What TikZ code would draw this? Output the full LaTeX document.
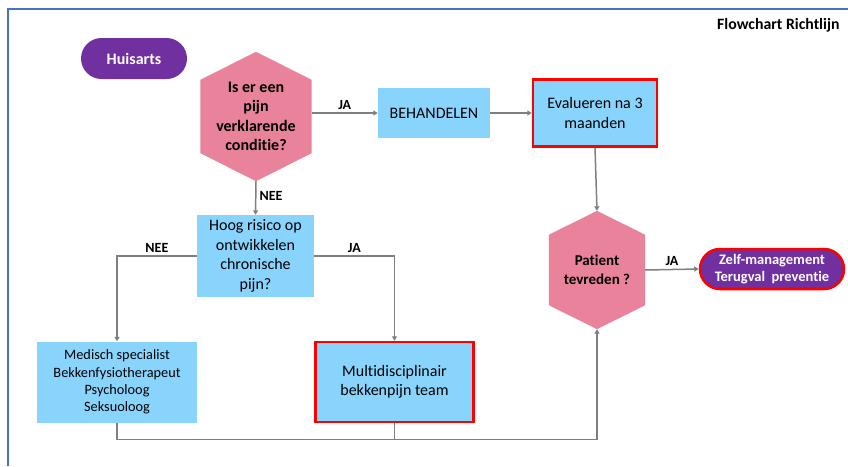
\documentclass[tikz,border=0pt]{standalone}
\usepackage{fontspec}
\setmainfont{Carlito}[Ligatures=NoCommon]
\usetikzlibrary{arrows.meta,shapes.misc,positioning,backgrounds}

\definecolor{hexpink}{RGB}{233,131,155}
\definecolor{boxblue}{RGB}{137,212,253}
\definecolor{pillpurple}{RGB}{112,48,160}
\definecolor{framblue}{RGB}{68,114,196}
\definecolor{linegray}{RGB}{127,127,127}

\begin{document}
\begin{tikzpicture}[x=1pt, y=-1pt,
		basic/.style  = {inner sep=2pt, align=center, font=\fontsize{16}{19.5}\selectfont},
		pill/.style   = {basic, rounded rectangle, fill=pillpurple, text=white, font=\fontsize{14.5}{17.7}\selectfont\bfseries},
		choice/.style = {basic, font=\fontsize{16}{19.5}\selectfont\bfseries},
		act/.style    = {basic, rectangle, fill=boxblue},
		redact/.style = {act, draw=red, line width=2.5pt},
		line/.style   = {draw=linegray, line width=1.5pt},
		arrow/.style  = {line, -{Triangle[length=4.5pt,width=5pt]}},
		lbl/.style    = {font=\fontsize{14}{16}\selectfont\bfseries, inner sep=3pt}]

		\useasboundingbox (0,0) rectangle (848,466);

		% frame and title
		\draw[framblue, line width=2pt] (8,466) -- (8,9) -- (848,9);
		\node[anchor=east, font=\fontsize{15.8}{18}\selectfont\bfseries] (title) at (843,25) {Flowchart Richtlijn};

		% start
		\node[pill, minimum width=110pt, minimum height=41pt, font=\fontsize{16}{19}\selectfont\bfseries] (huis) at (134,58.5) {Huisarts};

		% decisions, drawn as hexagons behind the text
		\node[choice, minimum width=111pt, minimum height=129pt] (cond) at (256,116.5) {Is er een\\pijn\\verklarende\\conditie?};
		\node[choice, minimum width=96pt, minimum height=118pt, font=\fontsize{15}{19}\selectfont\bfseries] (tevr) at (597,270) {Patient\\tevreden ?};
		\begin{scope}[on background layer]
			\fill[hexpink] (cond.north) -- ([yshift=-28pt]cond.north east) -- ([yshift=28pt]cond.south east)
				-- (cond.south) -- ([yshift=28pt]cond.south west) -- ([yshift=-28pt]cond.north west) -- cycle;
			\fill[hexpink] (tevr.north) -- ([yshift=-24pt]tevr.north east) -- ([yshift=24pt]tevr.south east)
				-- (tevr.south) -- ([yshift=24pt]tevr.south west) -- ([yshift=-24pt]tevr.north west) -- cycle;
		\end{scope}

		% actions
		\node[act, minimum width=112pt, minimum height=50pt] (beh) at (434,113) {BEHANDELEN};
		\node[redact, minimum width=124pt, minimum height=67pt] (eval) at (595,113) {Evalueren na 3\\maanden};
		\node[act, minimum width=117pt, minimum height=82pt] (hoog) at (255.5,256) {Hoog risico op\\ontwikkelen\\chronische\\pijn?};
		\node[act, minimum width=160pt, minimum height=81pt, font=\fontsize{14.3}{17.3}\selectfont] (med) at (117,382) {Medisch specialist\\Bekkenfysiotherapeut\\Psycholoog\\Seksuoloog};
		\node[redact, minimum width=158pt, minimum height=80pt] (multi) at (394.5,382) {Multidisciplinair\\bekkenpijn team};

		% end
		\node[pill, draw=red, line width=2.5pt, minimum width=148pt, minimum height=40pt] (zelf) at (772,269) {Zelf-management\\Terugval~~preventie};

		% connectors
		\draw[arrow] (cond.east |- beh.west) -- node[lbl, above] {JA} (beh.west);
		\draw[arrow] (beh.east) -- (eval.west);
		\draw[arrow] (eval.south) -- (tevr.north);
		\draw[arrow] (cond.south) -- node[lbl, right, pos=0.45] {NEE} (hoog.north);
		\draw[arrow] (hoog.west) -| node[lbl, above, pos=0.25] {NEE} (med.north);
		\draw[arrow] (hoog.east) -| node[lbl, above, pos=0.25] {JA} (multi.north);
		\draw[arrow] (tevr.east) -- node[lbl, above] {JA} (zelf.west);

		\coordinate (jn) at ([yshift=-16pt]multi.south);
		\draw[line] (multi.south) -- (jn);
		\draw[arrow] (med.south) |- (jn) -| (tevr.south);

	\end{tikzpicture}
\end{document}
